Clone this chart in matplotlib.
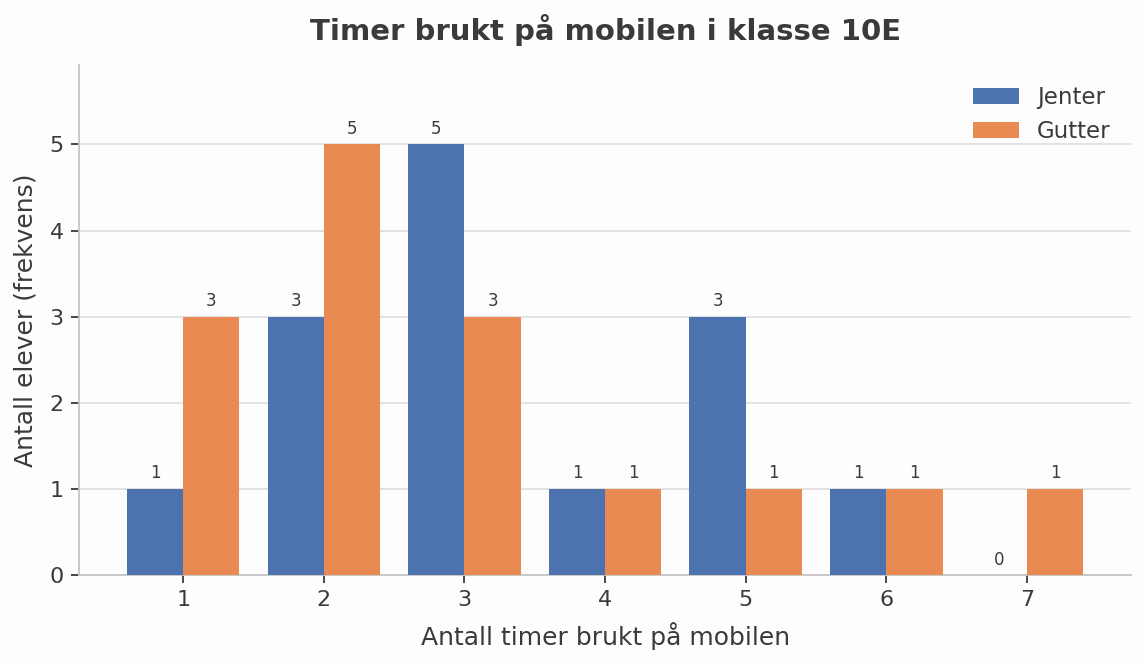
import numpy as np
import matplotlib.pyplot as plt

timer = [1, 2, 3, 4, 5, 6, 7]
jenter = [1, 3, 5, 1, 3, 1, 0]
gutter = [3, 5, 3, 1, 1, 1, 1]

BLUE = "#4C72B0"
ORANGE = "#E88A51"
TXT = "#3a3a3a"

fig, ax = plt.subplots(figsize=(11.46, 6.66), dpi=100)
fig.patch.set_facecolor("#fdfdfd")
ax.set_facecolor("#fdfdfd")
fig.subplots_adjust(left=0.069, right=0.987, top=0.902, bottom=0.137)

x = np.array(timer)
w = 0.4
b1 = ax.bar(x - w / 2, jenter, w, color=BLUE, label="Jenter", zorder=3)
b2 = ax.bar(x + w / 2, gutter, w, color=ORANGE, label="Gutter", zorder=3)

for bars in (b1, b2):
    for r in bars:
        h = r.get_height()
        ax.annotate(str(int(h)), (r.get_x() + r.get_width() / 2, h),
                    xytext=(0, 4.5), textcoords="offset points",
                    ha="center", va="bottom", fontsize=12, color=TXT)

ax.set_xlim(0.26, 7.74)
ax.set_ylim(0, 5.92)
ax.set_xticks(timer)
ax.set_yticks(range(6))
ax.grid(axis="y", color="#dddddd", linewidth=1.2, zorder=0)
ax.tick_params(labelsize=16, colors=TXT, length=6, width=1.3, pad=5)
for s in ("top", "right"):
    ax.spines[s].set_visible(False)
for s in ("left", "bottom"):
    ax.spines[s].set_color("#c4c4c4")
    ax.spines[s].set_linewidth(1.3)

ax.set_xlabel("Antall timer brukt på mobilen", fontsize=18, color=TXT,
              labelpad=9)
ax.set_ylabel("Antall elever (frekvens)", fontsize=18, color=TXT,
              labelpad=9)
ax.set_title("Timer brukt på mobilen i klasse 10E", fontsize=21,
             fontweight="bold", color=TXT, pad=18)

ax.legend(frameon=False, fontsize=16.5, labelcolor=TXT, loc="upper right",
          handlelength=2.0, handleheight=0.7, handletextpad=0.8)

fig.savefig("out.png", dpi=100, facecolor=fig.get_facecolor())
